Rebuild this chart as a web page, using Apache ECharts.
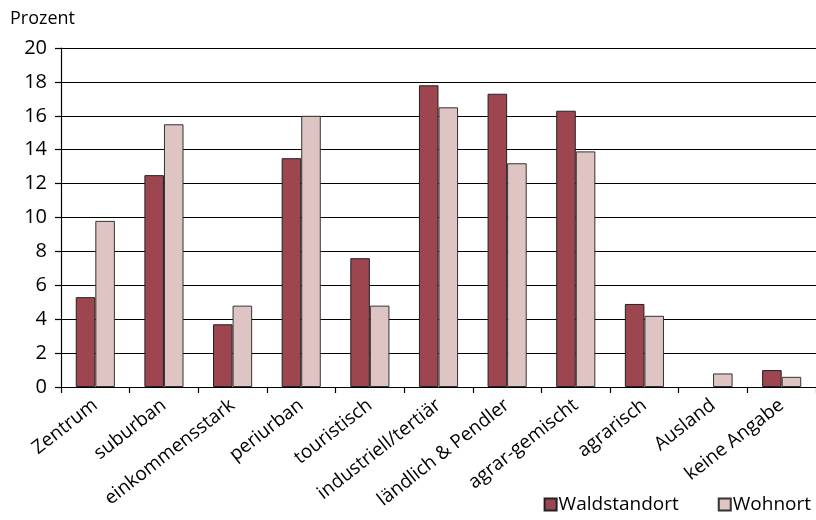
<!DOCTYPE html>
<html><head><meta charset="utf-8">
<script src="https://cdn.jsdelivr.net/npm/echarts@6/dist/echarts.min.js"></script>
<style>html,body{margin:0;padding:0;background:#fff}#c{width:816px;height:520px}</style>
</head><body><div id="c"></div>
<script>
const categories = ["Zentrum","suburban","einkommensstark","periurban","touristisch","industriell/tertiär","ländlich & Pendler","agrar-gemischt","agrarisch","Ausland","keine Angabe"];
const waldstandort = [5.3,12.5,3.7,13.5,7.6,17.8,17.3,16.3,4.9,0,1.0];
const wohnort = [9.8,15.5,4.8,16.0,4.8,16.5,13.2,13.9,4.2,0.8,0.6];
const seriesNames = ["Waldstandort","Wohnort"];
const yTicks = {min:0,max:20,interval:2};

const FONT = '"Open Sans", sans-serif';
const noZero = arr => arr.map(v => v === 0 ? '-' : v);
const chart = echarts.init(document.getElementById('c'), null, {renderer:'canvas'});
chart.setOption({
  animation:false,
  textStyle:{fontFamily:FONT,color:'#000'},
  grid:{left:61,right:0,top:48,bottom:133,containLabel:false},
  title:{text:'Prozent',left:5,top:5,textStyle:{fontFamily:FONT,fontSize:18,fontWeight:'normal',color:'#000'}},
  legend:{
    right:0,bottom:1,itemWidth:12,itemHeight:12,itemGap:39,
    textStyle:{fontFamily:FONT,fontSize:19,color:'#000',padding:[0,0,0,-3]},
    data:seriesNames.map(n=>({name:n,icon:'rect'}))
  },
  xAxis:{
    type:'category',data:categories,
    axisLine:{lineStyle:{color:'#000',width:1.2}},
    axisTick:{show:true,length:6,lineStyle:{color:'#000',width:1.2}},
    axisLabel:{rotate:38,fontSize:19,color:'#000',fontFamily:FONT,margin:16,interval:0}
  },
  yAxis:{
    type:'value',min:yTicks.min,max:yTicks.max,interval:yTicks.interval,
    axisLine:{show:true,lineStyle:{color:'#000',width:1.2}},
    axisTick:{show:true,length:6,lineStyle:{color:'#000',width:1.2}},
    axisLabel:{fontSize:20,color:'#000',fontFamily:FONT,margin:14},
    splitLine:{show:true,lineStyle:{color:'#000',width:1.2}}
  },
  series:[
    {name:seriesNames[0],type:'bar',data:noZero(waldstandort),barGap:'0%',barCategoryGap:'43%',
     itemStyle:{color:'#9D4650',borderColor:'#222',borderWidth:1}},
    {name:seriesNames[1],type:'bar',data:noZero(wohnort),barGap:'0%',barCategoryGap:'43%',
     itemStyle:{color:'#DEC4C2',borderColor:'#333',borderWidth:1}}
  ]
});
</script></body></html>
